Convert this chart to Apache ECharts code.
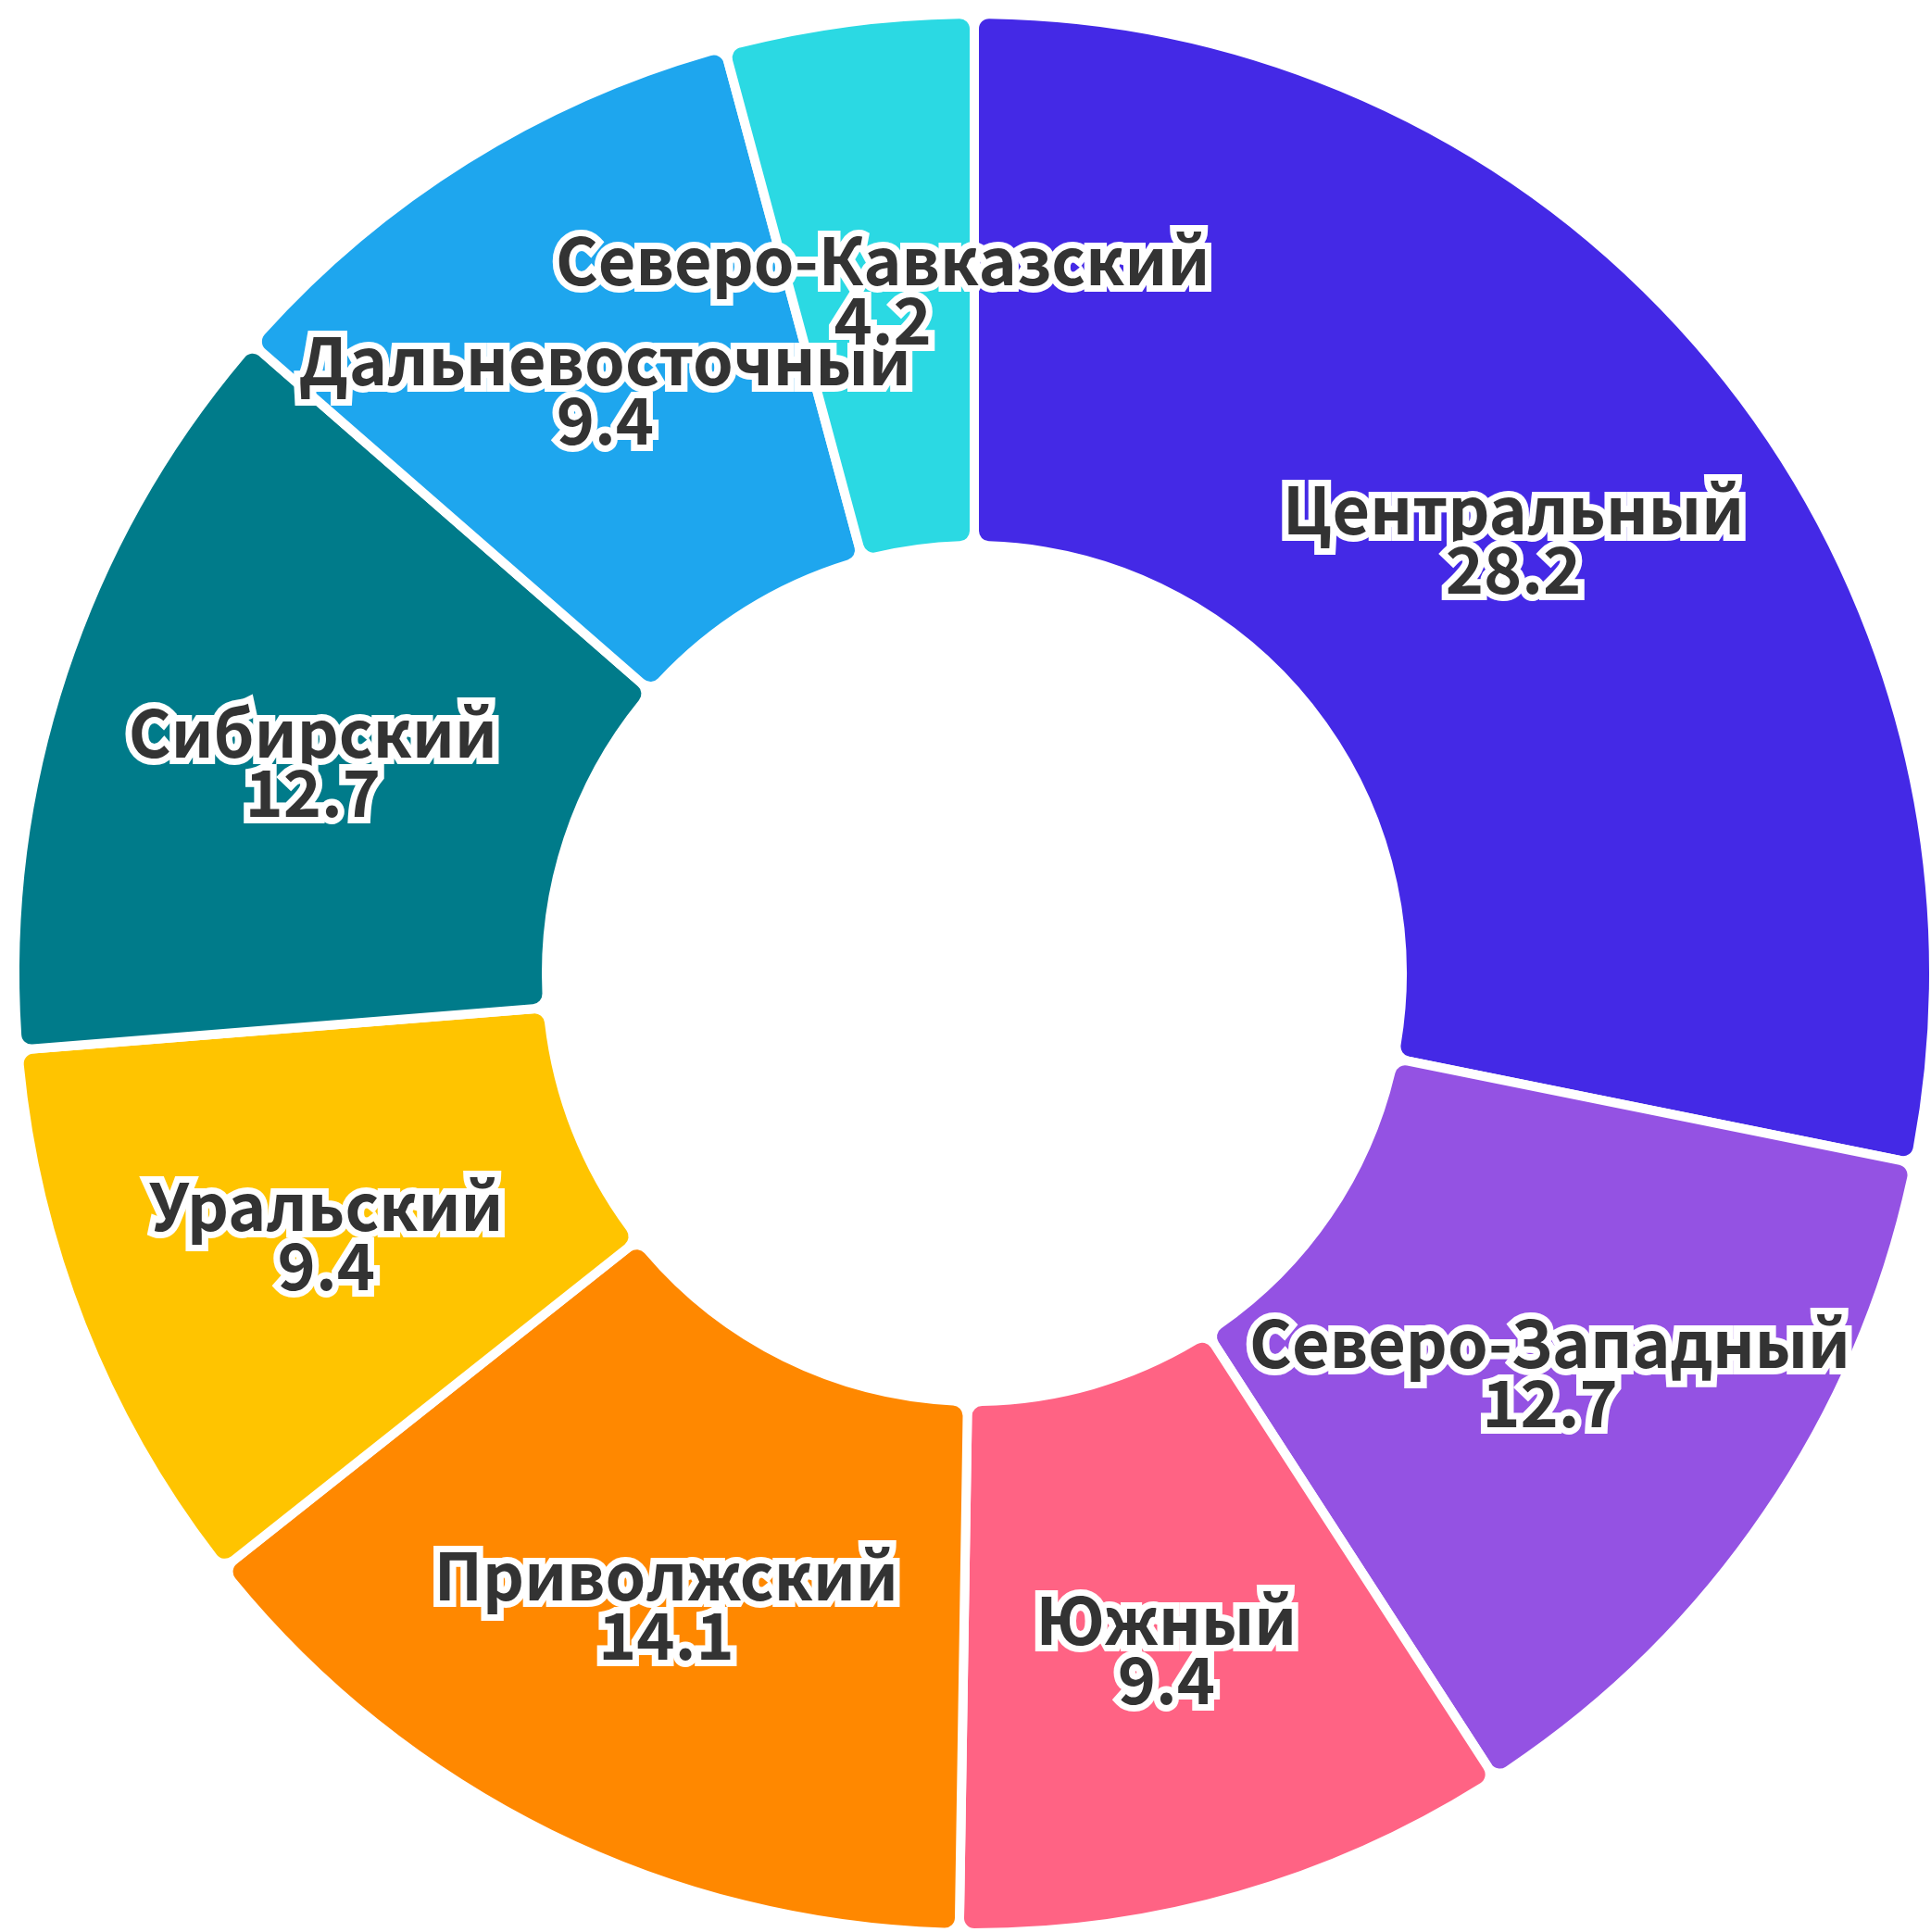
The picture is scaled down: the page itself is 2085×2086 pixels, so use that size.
<!DOCTYPE html>
<html>
<head>
<meta charset="utf-8">
<script src="https://cdn.jsdelivr.net/npm/echarts@6/dist/echarts.min.js"></script>
<style>
  html, body { margin: 0; padding: 0; background: #fff; }
  #chart { width: 2085px; height: 2086px; }
</style>
</head>
<body>
<div id="chart"></div>
<script>
// округа и доли
var regions = ['Центральный', 'Северо-Западный', 'Южный', 'Приволжский', 'Уральский', 'Сибирский', 'Дальневосточный', 'Северо-Кавказский'];
var shares = [28.2, 12.7, 9.4, 14.1, 9.4, 12.7, 9.4, 4.2];
var colors = ['#4429e6', '#9452e3', '#ff6384', '#ff8800', '#ffc400', '#007b8a', '#1ea6ee', '#2bd9e3'];

var chart = echarts.init(document.getElementById('chart'));

var option = {
  animation: false,
  color: colors,
  series: [{
    type: 'pie',
    center: [1052, 1051],
    radius: [462, 1036],
    startAngle: 90,
    clockwise: true,
    avoidLabelOverlap: false,
    labelLayout: { hideOverlap: false },
    itemStyle: {
      borderColor: '#fff',
      borderWidth: 10,
      borderRadius: 16
    },
    label: {
      show: true,
      position: 'inside',
      formatter: '{b}\n{c}',
      color: '#333',
      fontFamily: 'Noto Sans CJK SC',
      fontWeight: 'bold',
      fontSize: 70,
      lineHeight: 64,
      offset: [0, 8],
      textBorderColor: '#fff',
      textBorderWidth: 14
    },
    labelLine: { show: false },
    data: regions.map(function (name, i) {
      return { name: name, value: shares[i] };
    })
  }]
};

chart.setOption(option);
</script>
</body>
</html>
